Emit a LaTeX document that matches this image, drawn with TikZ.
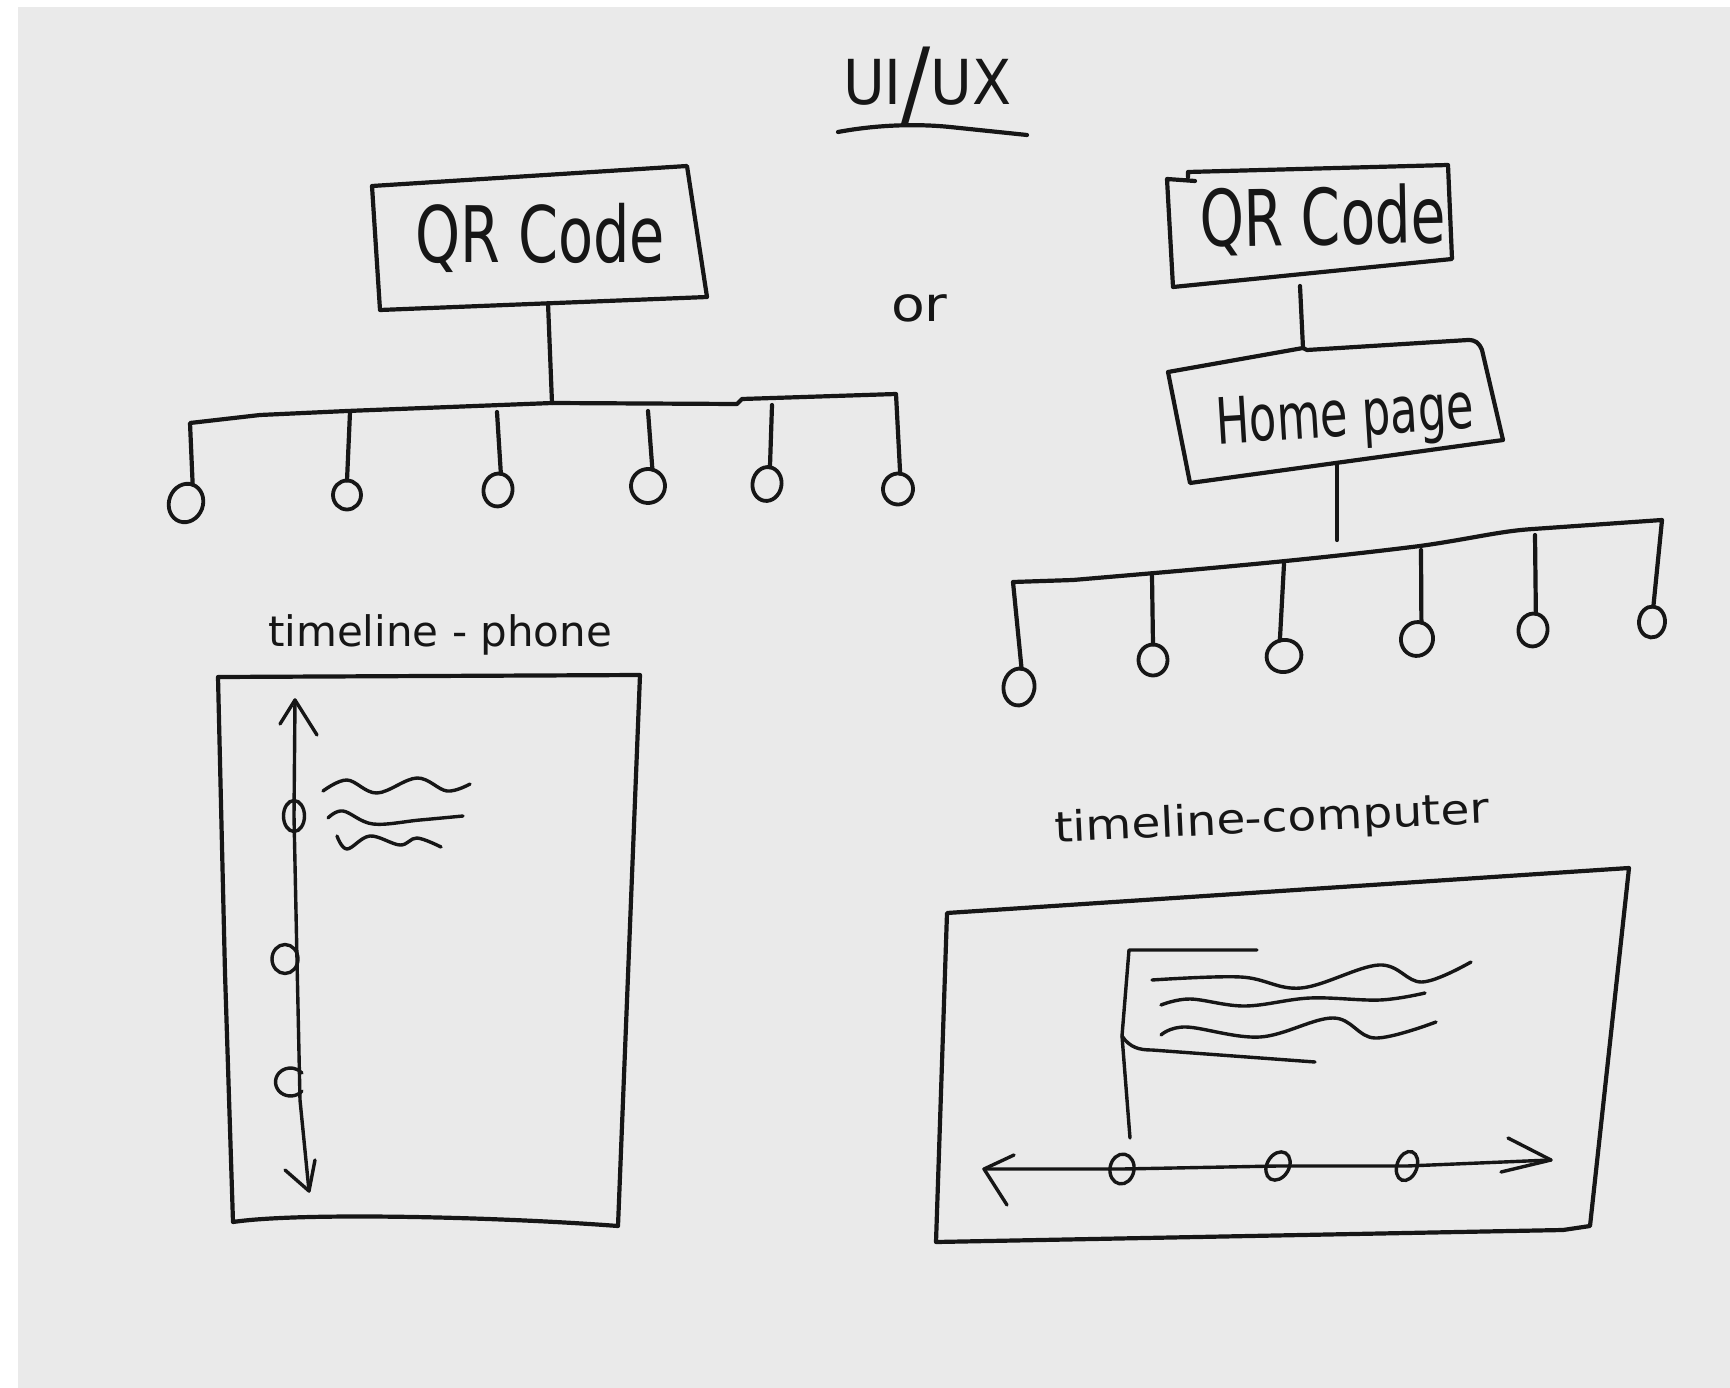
\documentclass[tikz,border=0pt]{standalone}
\usepackage{fontspec}
\usepackage{graphicx}
\setmainfont{DejaVu Sans}
\newfontfamily\hand{DejaVu Sans}
\usetikzlibrary{shapes.geometric}
\definecolor{ink}{RGB}{22,22,22}
\definecolor{paper}{RGB}{234,234,234}
\begin{document}
\begin{tikzpicture}[x=1pt,y=-1pt,
  pen/.style={draw=ink,line width=4.2pt,line cap=round,line join=round},
  thinpen/.style={draw=ink,line width=3.4pt,line cap=round,line join=round},
  leaf/.style={ellipse,draw=ink,line width=3.8pt,inner sep=0pt,outer sep=0pt},
  lbl/.style={text=ink,inner sep=0pt,outer sep=0pt,font=\hand}]
\useasboundingbox (0,0) rectangle (1730,1388);
\fill[white] (0,0) rectangle (1730,1388);
\fill[paper] (18,7) rectangle (1730,1388);

% ---------- title ----------
\node[lbl,anchor=base west] (title) at (843,105)
  {\fontsize{62}{62}\selectfont\scalebox{0.92}[1]{UI\raisebox{-11pt}{\fontsize{94}{94}\selectfont/}UX}};
\coordinate (ul1) at (838,132);
\coordinate (ul2) at (1027,135);
\draw[pen] (ul1) .. controls (870,126) and (910,123) .. (950,127) -- (ul2);

% ---------- left tree ----------
\node[lbl,anchor=base west] (qr1) at (415,263)
  {\fontsize{78}{78}\selectfont\scalebox{0.735}[1]{QR Code}};
\draw[pen] (372,186) -- (687,166) -- (707,297) -- (380,310) -- cycle;
\coordinate (qr1b) at (548,303);
\coordinate (lbc) at (552,403);
\draw[pen] (qr1b) -- (lbc);

\node[leaf,minimum width=34pt,minimum height=39pt,rotate=-20] (L1) at (186,503) {};
\node[leaf,minimum width=28pt,minimum height=29pt] (L2) at (347,495) {};
\node[leaf,minimum width=29pt,minimum height=33pt,rotate=-10] (L3) at (498,490) {};
\node[leaf,minimum width=34pt,minimum height=34pt,rotate=-15] (L4) at (648,486) {};
\node[leaf,minimum width=29pt,minimum height=34pt,rotate=-10] (L5) at (767,484) {};
\node[leaf,minimum width=30pt,minimum height=31pt,rotate=-8] (L6) at (898,489) {};

\coordinate (lb0) at (190,423);
\coordinate (lb6) at (896,394);
\draw[pen] (L1.north) -- (lb0) -- (260,415) -- (347,411) -- (lbc) -- (737,404) -- (742,399) -- (lb6) -- (L6.north);
\coordinate (ls2) at (350,412);
\coordinate (ls3) at (497,412);
\coordinate (ls4) at (648,411);
\coordinate (ls5) at (772,405);
\draw[pen] (ls2) -- (L2.north);
\draw[pen] (ls3) -- (L3.north);
\draw[pen] (ls4) -- (L4.north);
\draw[pen] (ls5) -- (L5.north);

% ---------- or ----------
\node[lbl,anchor=base west] (or) at (891,322)
  {\fontsize{48}{48}\selectfont\scalebox{1.15}[1]{or}};

% ---------- right tree ----------
\node[lbl,anchor=base west,rotate=1] (qr2) at (1200,247)
  {\fontsize{78}{78}\selectfont\scalebox{0.725}[1]{QR Code}};
\draw[pen] (1195,181) -- (1167,179) -- (1173,287) -- (1452,259) -- (1448,165) -- (1188,172) -- (1188,177);
\coordinate (qr2b) at (1300,286);
\coordinate (hpt) at (1303,348);
\draw[pen] (qr2b) -- (hpt);

\node[lbl,anchor=base west,rotate=3.5] (home) at (1217,444)
  {\fontsize{64}{64}\selectfont\scalebox{0.70}[1]{Home page}};
\draw[pen] (1168,372) -- (hpt) -- (1307,350) -- (1468,340)
  .. controls (1476,340) and (1479,343) .. (1482,350) -- (1503,440) -- (1190,483) -- cycle;
\coordinate (hpb) at (1337,463);
\coordinate (hpe) at (1337,540);
\draw[pen] (hpb) -- (hpe);

\node[leaf,minimum width=31pt,minimum height=37pt,rotate=-8] (R1) at (1019,687) {};
\node[leaf,minimum width=29pt,minimum height=31pt] (R2) at (1153,660) {};
\node[leaf,minimum width=35pt,minimum height=32pt,rotate=15] (R3) at (1284,656) {};
\node[leaf,minimum width=32pt,minimum height=34pt,rotate=-15] (R4) at (1417,639) {};
\node[leaf,minimum width=29pt,minimum height=33pt,rotate=-10] (R5) at (1533,630) {};
\node[leaf,minimum width=26pt,minimum height=31pt,rotate=-5] (R6) at (1652,622) {};

\coordinate (rb0) at (1013,582);
\coordinate (rb6) at (1662,520);
\draw[pen] (R1.north) -- (rb0) -- (1073,580)
  .. controls (1190,570) and (1300,561) .. (1420,546)
  .. controls (1470,539) and (1500,531) .. (1533,529) -- (rb6) -- (R6.north);
\coordinate (rs2) at (1152,576);
\coordinate (rs3) at (1284,564);
\coordinate (rs4) at (1421,550);
\coordinate (rs5) at (1535,535);
\draw[pen] (rs2) -- (R2.north);
\draw[pen] (rs3) -- (R3.north);
\draw[pen] (rs4) -- (R4.north);
\draw[pen] (rs5) -- (R5.north);

% ---------- timeline - phone ----------
\node[lbl,anchor=base west] (tlp) at (268,646)
  {\fontsize{42}{42}\selectfont\scalebox{1.0}[1]{timeline - phone}};
\draw[pen] (218,677) -- (640,675) -- (618,1226)
  .. controls (500,1217) and (300,1212) .. (233,1222) -- (225,973) -- cycle;

\node[leaf,line width=3.4pt,minimum width=21pt,minimum height=31pt] (P1) at (294,816) {};
\node[leaf,line width=3.4pt,minimum width=26pt,minimum height=29pt] (P2) at (285,959) {};
\coordinate (vtop) at (295,700);
\coordinate (vbot) at (309,1191);
\draw[thinpen] (vtop) -- (P1.center) -- (297,960) -- (300,1100) -- (vbot);
\draw[thinpen] (280,724) -- (vtop) -- (317,735);
\draw[thinpen] (285,1170) -- (vbot) -- (315,1160);
\draw[thinpen] (302,1091) arc[start angle=40,end angle=320,x radius=15,y radius=14];

\draw[thinpen] plot[smooth,tension=0.6] coordinates {(323,791) (347,780) (377,793) (417,778) (447,791) (470,784)};
\draw[thinpen] plot[smooth,tension=0.6] coordinates {(328,818) (343,811) (373,824) (420,820) (463,816)};
\draw[thinpen] plot[smooth,tension=0.6] coordinates {(337,836) (347,849) (370,836) (400,845) (417,838) (441,847)};

% ---------- timeline-computer ----------
\node[lbl,anchor=base west,rotate=2.5] (tlc) at (1055,842)
  {\fontsize{42}{42}\selectfont\scalebox{1.12}[1]{timeline-computer}};
\draw[pen] (947,913) -- (1629,868) -- (1590,1226) -- (1563,1230) -- (936,1242) -- cycle;

\draw[thinpen] (1257,950) -- (1129,950) -- (1122,1036) -- (1130,1138);
\draw[thinpen] (1122,1036) .. controls (1130,1048) and (1140,1050) .. (1152,1050) -- (1315,1062);
\draw[thinpen] plot[smooth,tension=0.6] coordinates {(1152,980) (1241,977) (1301,988) (1379,965) (1422,982) (1471,962)};
\draw[thinpen] plot[smooth,tension=0.6] coordinates {(1161,1005) (1190,999) (1245,1006) (1310,998) (1380,1000) (1425,993)};
\draw[thinpen] plot[smooth,tension=0.6] coordinates {(1161,1035) (1186,1027) (1260,1037) (1333,1018) (1375,1038) (1436,1022)};

\node[leaf,line width=3.4pt,minimum width=24pt,minimum height=30pt,rotate=-10] (C1) at (1122,1169) {};
\node[leaf,line width=3.4pt,minimum width=22pt,minimum height=30pt,rotate=-30] (C2) at (1278,1166) {};
\node[leaf,line width=3.4pt,minimum width=20pt,minimum height=30pt,rotate=-20] (C3) at (1407,1166) {};
\coordinate (hl) at (984,1169);
\coordinate (hr) at (1551,1160);
\draw[thinpen] (hl) -- (C1.center) -- (C2.center) -- (C3.center) -- (hr);
\draw[thinpen] (1014,1155) -- (hl) -- (1007,1205);
\draw[thinpen] (1508,1138) -- (hr) -- (1501,1172);
\end{tikzpicture}
\end{document}
